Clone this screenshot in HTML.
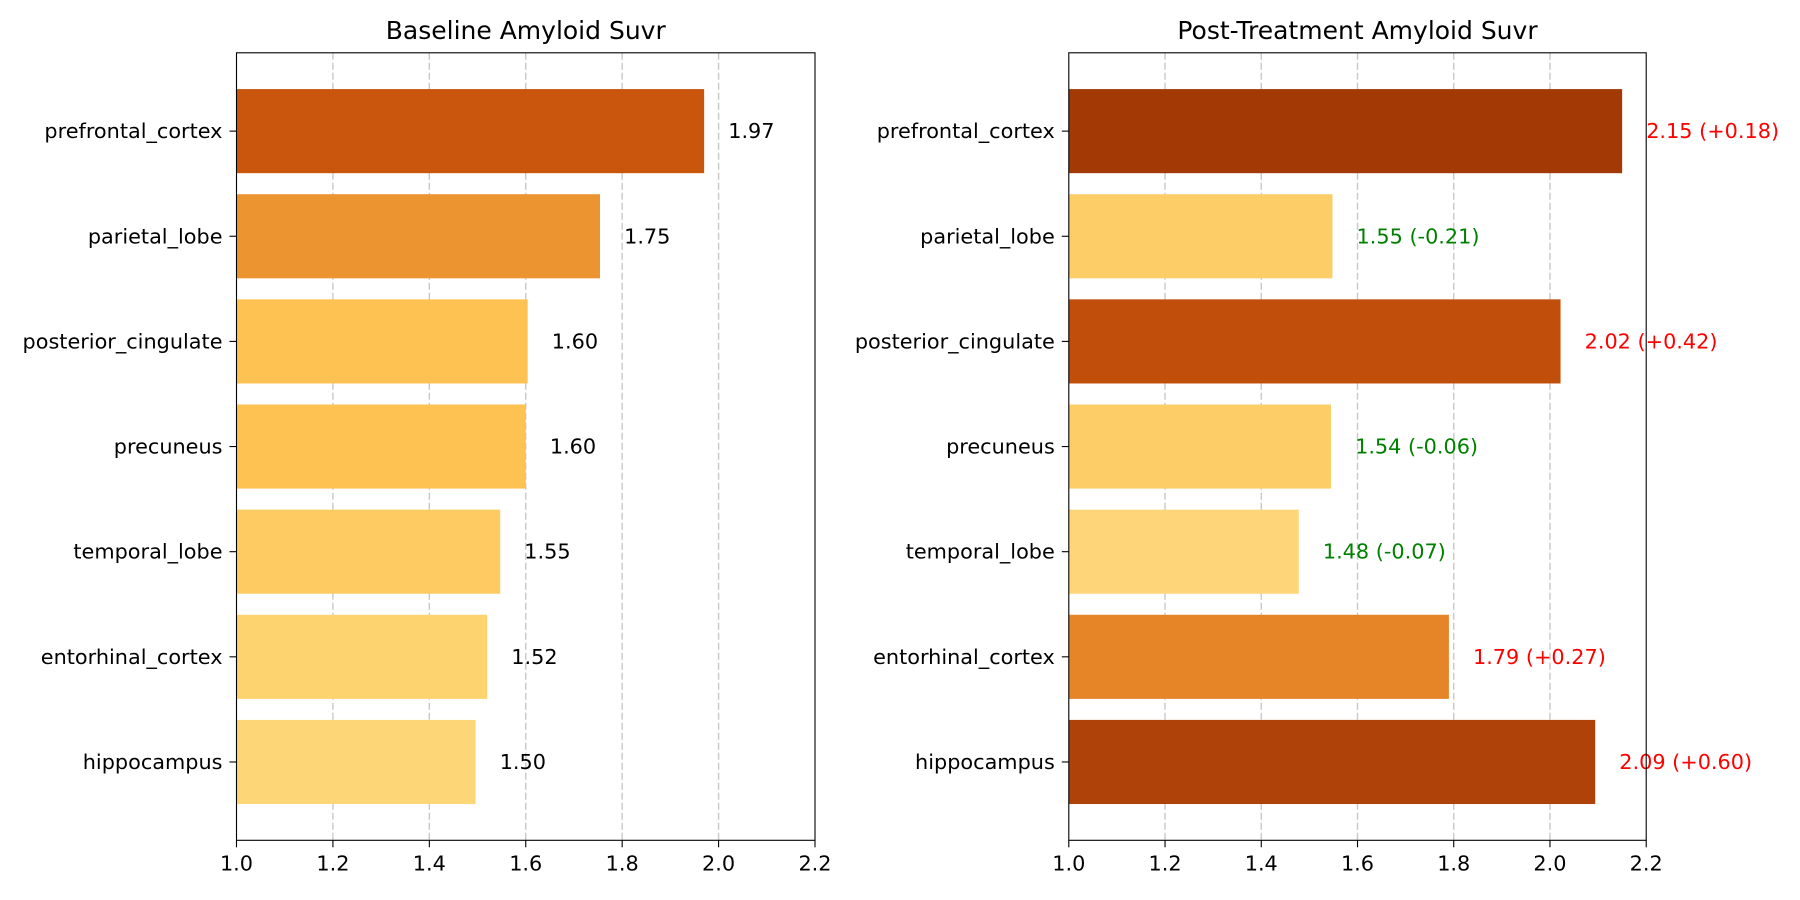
<!DOCTYPE html>
<html><head><meta charset="utf-8"><style>
html,body{margin:0;padding:0;background:#fff}
svg{display:block}
text{font-family:"DejaVu Sans","Liberation Sans",sans-serif}
</style></head>
<body>
<svg id="chart" width="1800" height="900" viewBox="0 0 1800 900" xmlns="http://www.w3.org/2000/svg"></svg>
<script>
const categories = ["hippocampus","entorhinal_cortex","temporal_lobe","precuneus","posterior_cingulate","parietal_lobe","prefrontal_cortex"];
const baselineValues = [1.496,1.52,1.547,1.60,1.604,1.754,1.97];
const postValues = [2.094,1.79,1.478,1.545,2.022,1.548,2.15];
const baselineColors = ["#fdd678","#fdd36f","#fdcb61","#fdc251","#fdc251","#eb9430","#c9560c"];
const postColors = ["#ae4208","#e68428","#fed679","#fdcd67","#c14f0b","#fdce68","#a33a06"];
const xTicks = [1.0,1.2,1.4,1.6,1.8,2.0,2.2];

const NS="http://www.w3.org/2000/svg";
const svgEl=document.getElementById('chart');
function mk(tag,attrs,parent){const e=document.createElementNS(NS,tag);for(const k in attrs)e.setAttribute(k,attrs[k]);(parent||svgEl).appendChild(e);return e;}

const plotTop=52.8,plotBottom=840.3;
const yMin=-0.745,yMax=6.745;
function yScale(i){return plotBottom-(i-yMin)/(yMax-yMin)*(plotBottom-plotTop);}

function panel(left,right,title,values,colors,isPost,name){
  const g=mk('g',{});
  
  
  const xScale=v=>left+(v-1.0)/(2.2-1.0)*(right-left);
  xTicks.forEach(t=>{
    if(t>1.0&&t<2.2){
      const l=mk('line',{x1:xScale(t),x2:xScale(t),y1:plotTop,y2:plotBottom,stroke:'#b0b0b0','stroke-opacity':0.7,'stroke-dasharray':'7,3','stroke-width':1.4},g);
      
      
    }
  });
  const bh=0.8*(plotBottom-plotTop)/(yMax-yMin);
  values.forEach((v,i)=>{
    const yc=yScale(i);
    const r=mk('rect',{x:xScale(1.0),y:yc-bh/2,width:xScale(v)-xScale(1.0),height:bh,fill:colors[i]},g);
    
    
    let label=v.toFixed(2),col='#000';
    if(isPost){
      const d=v-baselineValues[i];
      label+=' ('+(d>=0?'+':'')+d.toFixed(2)+')';
      col=d>=0?'#ff0000':'#008000';
    }
    const t=mk('text',{x:xScale(v+0.05),y:yc,'font-size':20.8,fill:col,'dominant-baseline':'central'},g);
    t.textContent=label;
    
    
    mk('line',{x1:left-7,x2:left,y1:yc,y2:yc,stroke:'#000','stroke-width':1.1},g);
    const yl=mk('text',{x:left-14,y:yc,'font-size':20.8,'text-anchor':'end','dominant-baseline':'central'},g);
    yl.textContent=categories[i];
    
    
  });
  xTicks.forEach(t=>{
    mk('line',{x1:xScale(t),x2:xScale(t),y1:plotBottom,y2:plotBottom+7,stroke:'#000','stroke-width':1.1},g);
    const xl=mk('text',{x:xScale(t),y:plotBottom+30,'font-size':20.8,'text-anchor':'middle'},g);
    xl.textContent=t.toFixed(1);
    
    
  });
  const fr=mk('rect',{x:left,y:plotTop,width:right-left,height:plotBottom-plotTop,fill:'none',stroke:'#000','stroke-width':1.1},g);
  
  
  const tt=mk('text',{x:(left+right)/2,y:plotTop-14,'font-size':25,'text-anchor':'middle'},g);
  tt.textContent=title;
  
  
}
panel(236.5,815,'Baseline Amyloid Suvr',baselineValues,baselineColors,false,'baseline-panel');
panel(1068.8,1646.2,'Post-Treatment Amyloid Suvr',postValues,postColors,true,'post-treatment-panel');
</script>
</body></html>
